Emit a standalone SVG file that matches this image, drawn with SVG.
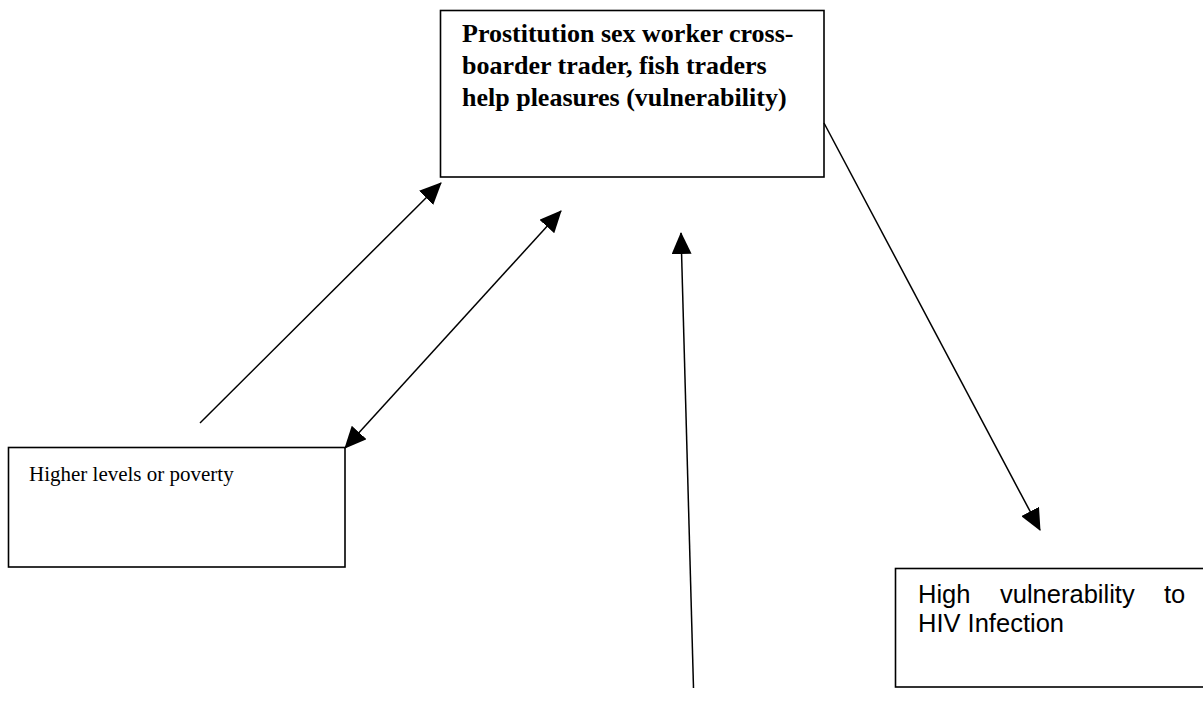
<svg xmlns="http://www.w3.org/2000/svg" width="1203" height="702" viewBox="0 0 1203 702">
  <style>
    .box { fill: #fff; stroke: #000; stroke-width: 1.6; }
    .link { fill: none; stroke: #000; stroke-width: 1.5; }
    .serif { font-family: "Liberation Serif", "Times New Roman", serif; fill: #000; }
    .sans { font-family: "Liberation Sans", Arial, sans-serif; fill: #000; }
  </style>
  <defs>
    <marker id="head" viewBox="0 0 22 20" refX="21" refY="10" markerWidth="22" markerHeight="20" markerUnits="userSpaceOnUse" orient="auto-start-reverse">
      <path d="M0,0 L22,10 L0,20 z" fill="#000"/>
    </marker>
  </defs>
  <rect width="1203" height="702" fill="#fff"/>

  <!-- central box -->
  <g id="node-vulnerability">
    <rect class="box" x="440.5" y="10.5" width="383.5" height="166.5"/>
    <text class="serif" font-size="26" font-weight="bold">
      <tspan x="462" y="42">Prostitution sex worker cross-</tspan>
      <tspan x="462" y="74">boarder trader, fish traders</tspan>
      <tspan x="462" y="106">help pleasures (vulnerability)</tspan>
    </text>
  </g>

  <!-- poverty box -->
  <g id="node-poverty">
    <rect class="box" x="8.5" y="447.5" width="336.5" height="119.5"/>
    <text class="serif" font-size="21" x="29" y="481">Higher levels or poverty</text>
  </g>

  <!-- HIV box, running past the right edge -->
  <g id="node-hiv">
    <rect class="box" x="895.5" y="568.5" width="320" height="118.5"/>
    <text class="sans" font-size="25.5" y="603">
      <tspan x="918">High</tspan>
      <tspan x="1000">vulnerability</tspan>
      <tspan x="1164">to</tspan>
    </text>
    <text class="sans" font-size="25.5" x="918" y="632">HIV Infection</text>
  </g>

  <!-- connectors -->
  <g id="connectors">
    <line class="link" x1="200" y1="423" x2="441" y2="183" marker-end="url(#head)"/>
    <line class="link" x1="345" y1="448" x2="561" y2="211" stroke-width="2" marker-start="url(#head)" marker-end="url(#head)"/>
    <line class="link" x1="693.5" y1="688" x2="681" y2="233" stroke-width="2.2" marker-end="url(#head)"/>
    <line class="link" x1="824" y1="123" x2="1040" y2="530" marker-end="url(#head)"/>
  </g>
</svg>
